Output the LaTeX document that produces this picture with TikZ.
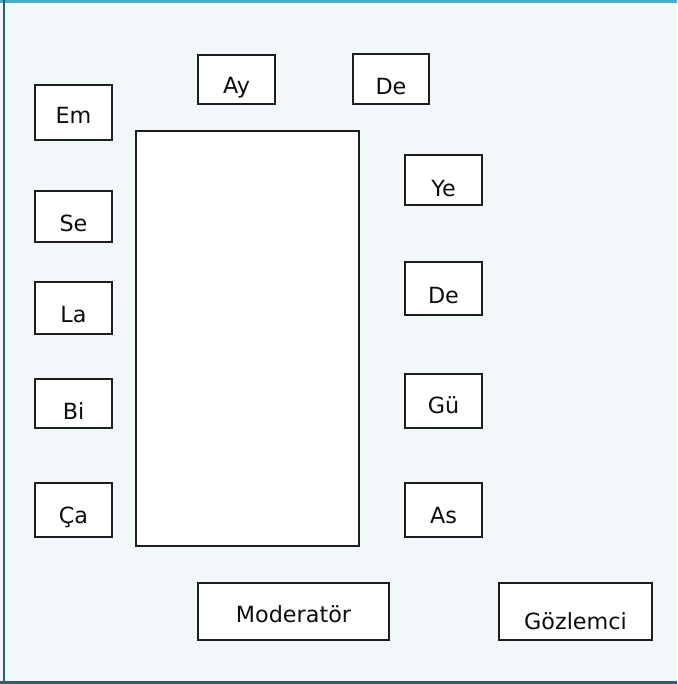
\documentclass[tikz,border=0pt]{standalone}
\usepackage{fontspec}
\setmainfont{DejaVu Sans}
\definecolor{bgc}{HTML}{F2F7FA}
\definecolor{topc}{HTML}{4BACC6}
\definecolor{darkc}{HTML}{2D6070}
\definecolor{boxline}{HTML}{1E1E1E}
\begin{document}
\begin{tikzpicture}[x=1pt,y=-1pt,
  box/.style={draw=boxline, fill=white, line width=1.4pt, inner sep=0pt},
  lbl/.style={anchor=base, font=\fontsize{22.3}{26}\selectfont, text=black!95, inner sep=0pt}]
\useasboundingbox (0,0) rectangle (677,684);
\fill[bgc] (0,0) rectangle (677,684);
\draw[topc, line width=3pt] (0,1.5) -- (677,1.5);
\draw[darkc, line width=2pt] (4,0) -- (4,684);
\draw[darkc, line width=3pt] (0,682.5) -- (677,682.5);

% boxes
\node[box, minimum width=77pt, minimum height=55pt] (em) at (73.5,112.5) {};
\node[box, minimum width=77pt, minimum height=51pt] (se) at (73.5,216.5) {};
\node[box, minimum width=77pt, minimum height=52pt] (la) at (73.5,308) {};
\node[box, minimum width=77pt, minimum height=49pt] (bi) at (73.5,403.5) {};
\node[box, minimum width=77pt, minimum height=54pt] (ca) at (73.5,510) {};
\node[box, minimum width=77pt, minimum height=49pt] (ay) at (236.5,79.5) {};
\node[box, minimum width=76pt, minimum height=50pt] (detop) at (391,79) {};
\node[box, minimum width=77pt, minimum height=50pt] (ye) at (443.5,180) {};
\node[box, minimum width=77pt, minimum height=53pt] (de) at (443.5,288.5) {};
\node[box, minimum width=77pt, minimum height=54pt] (gu) at (443.5,401) {};
\node[box, minimum width=77pt, minimum height=54pt] (as) at (443.5,510) {};
\node[box, minimum width=223pt, minimum height=415pt] (table) at (247.5,338.5) {};
\node[box, minimum width=191pt, minimum height=57pt] (mod) at (293.5,611.5) {};
\node[box, minimum width=153pt, minimum height=57pt] (goz) at (575.5,611.5) {};

% labels
\node[lbl] (emt) at ([yshift=16.7pt]em.south) {Em};
\node[lbl] (set) at ([yshift=11.3pt]se.south) {Se};
\node[lbl] (lat) at ([yshift=12.4pt]la.south) {La};
\node[lbl] (bit) at ([yshift=9.3pt]bi.south) {Bi};
\node[lbl] (cat) at ([yshift=14.6pt]ca.south) {Ça};
\node[lbl] (ayt) at ([yshift=10.7pt]ay.south) {Ay};
\node[lbl] (detopt) at ([yshift=9.7pt]detop.south) {De};
\node[lbl] (yet) at ([yshift=9.3pt]ye.south) {Ye};
\node[lbl] (det) at ([yshift=12.7pt]de.south) {De};
\node[lbl] (gut) at ([yshift=15pt]gu.south) {Gü};
\node[lbl] (ast) at ([yshift=14.3pt]as.south) {As};
\node[lbl] (modt) at ([yshift=18.3pt]mod.south) {Moderatör};
\node[lbl] (gozt) at ([yshift=11pt]goz.south) {Gözlemci};
\end{tikzpicture}
\end{document}
